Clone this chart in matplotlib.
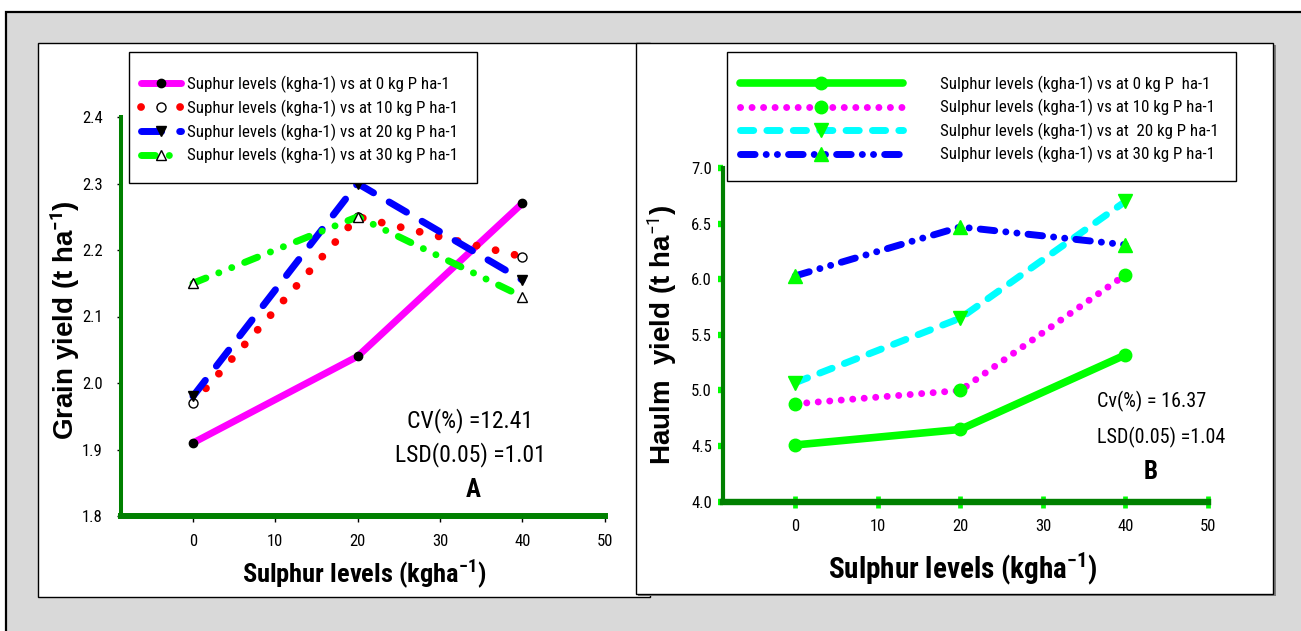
import matplotlib
matplotlib.use('Agg')
import matplotlib.pyplot as plt
from matplotlib.patches import Rectangle
from matplotlib import font_manager as fm

# ---------------- data ----------------
sulphur = [0, 20, 40]
x_ticks = [0, 10, 20, 30, 40, 50]
grain_ticks = [1.8, 1.9, 2.0, 2.1, 2.2, 2.3, 2.4]
haulm_ticks = [4.0, 4.5, 5.0, 5.5, 6.0, 6.5, 7.0]

grain_p0 = [1.91, 2.04, 2.27]
grain_p10 = [1.97, 2.25, 2.19]
grain_p20 = [1.98, 2.30, 2.155]
grain_p30 = [2.15, 2.25, 2.13]

haulm_p0 = [4.51, 4.65, 5.32]
haulm_p10 = [4.88, 5.00, 6.04]
haulm_p20 = [5.07, 5.65, 6.70]
haulm_p30 = [6.03, 6.47, 6.31]

grain_labels = ["Suphur levels (kgha-1) vs at 0 kg P ha-1",
                "Suphur levels (kgha-1) vs at 10 kg P ha-1",
                "Suphur levels (kgha-1) vs at 20 kg P ha-1",
                "Suphur levels (kgha-1) vs at 30 kg P ha-1"]
haulm_labels = ["Sulphur levels (kgha-1) vs at 0 kg P  ha-1",
                "Sulphur levels (kgha-1) vs at 10 kg P ha-1",
                "Sulphur levels (kgha-1) vs at  20 kg P ha-1",
                "Sulphur levels (kgha-1) vs at 30 kg P ha-1"]

# ---------------- fonts ----------------
names = {f.name for f in fm.fontManager.ttflist}
cands = ['Liberation Sans Narrow', 'Arial Narrow', 'Nimbus Sans Narrow',
         'Roboto Condensed', 'PT Sans Narrow', 'Barlow Semi Condensed']
NARROW = next((c for c in cands if c in names), 'Liberation Sans')
WIDE = 'Liberation Sans'
plt.rcParams['font.family'] = [NARROW, 'DejaVu Sans']
plt.rcParams['mathtext.fontset'] = 'custom'
plt.rcParams['mathtext.rm'] = NARROW
plt.rcParams['mathtext.bf'] = NARROW + ':bold'
plt.rcParams['mathtext.it'] = NARROW + ':italic'

W, H = 1301, 631
fig = plt.figure(figsize=(W / 100, H / 100), dpi=100, facecolor='white')


def rect_px(x0, y0, x1, y1, **kw):
    r = Rectangle((x0 / W, 1 - y1 / H), (x1 - x0) / W, (y1 - y0) / H,
                  transform=fig.transFigure, **kw)
    fig.add_artist(r)
    return r


rect_px(6, 12, 1330, 660, facecolor='#D9D9D9', edgecolor='black', lw=1.6, zorder=-5)
rect_px(38, 43, 650, 597, facecolor='white', edgecolor='black', lw=1.0, zorder=-4)
rect_px(638, 45, 1275.5, 596, facecolor='#7F7F7F', edgecolor='none', zorder=-3)
rect_px(636, 43, 1273, 594, facecolor='white', edgecolor='black', lw=1.0, zorder=-2)

SPINE = '#008000'
XLIM = (-8.75, 50)

# ---------------- panel A ----------------
axA = fig.add_axes([121 / W, 1 - 516 / H, (604.5 - 121) / W, (516 - 117) / H])
axA.set_facecolor('none')

lw = 5.0
axA.plot(sulphur, grain_p0, color='#FF00FF', lw=lw, ls='-', solid_capstyle='round',
         marker='o', ms=6, mfc='black', mec='black', clip_on=False, label=grain_labels[0])
axA.plot(sulphur, grain_p10, color='#FF0000', lw=5.6, ls=(0, (0.01, 2.5)), dash_capstyle='round',
         marker='o', ms=6.5, mfc='white', mec='black', mew=1, clip_on=False, label=grain_labels[1])
axA.plot(sulphur, grain_p20, color='#0000FF', lw=lw, ls=(0, (2.9, 2.6)), dash_capstyle='round',
         marker='v', ms=7, mfc='black', mec='black', clip_on=False, label=grain_labels[2])
axA.plot(sulphur, grain_p30, color='#00FF00', lw=lw, ls=(0, (2.0, 2.0, 0.01, 2.0, 0.01, 2.0)),
         dash_capstyle='round', marker='^', ms=7, mfc='white', mec='black', mew=1,
         clip_on=False, label=grain_labels[3])

axA.set_xlim(*XLIM)
axA.set_ylim(1.8, 2.4)
axA.set_xticks(x_ticks)
axA.set_yticks(grain_ticks)
axA.set_yticklabels([f"{v:.1f}" for v in grain_ticks])
for s in ('top', 'right'):
    axA.spines[s].set_visible(False)
axA.spines['left'].set_color(SPINE)
axA.spines['left'].set_linewidth(2.9)
axA.spines['bottom'].set_color(SPINE)
axA.spines['bottom'].set_linewidth(4.3)
axA.tick_params(axis='x', direction='out', length=4.3, width=1, color='black', pad=8.5, labelsize=12)
axA.tick_params(axis='y', direction='out', length=3, width=1, color='black', pad=10, labelsize=12)

axA.set_ylabel(r'Grain yield (t ha$^{\mathbf{-1}}$)', family=[WIDE, 'DejaVu Sans'],
               fontweight='bold', fontsize=20, va='center')
axA.yaxis.set_label_coords((65 - 121) / 483.5, 0.49)
axA.set_xlabel(r'Sulphur levels (kgha$^{\mathbf{-1}}$)', fontweight='bold', fontsize=19,
               va='baseline')
axA.xaxis.set_label_coords(0.504, -(582 - 516) / 399)

axA.text(33.7, 1.944, 'CV(%) =12.41', ha='center', va='center', fontsize=17)
axA.text(33.7, 1.892, 'LSD(0.05) =1.01', ha='center', va='center', fontsize=17)
axA.text(34.1, 1.839, 'A', ha='center', va='center', fontsize=18, fontweight='bold')

hA, lA = axA.get_legend_handles_labels()
legA = fig.legend(hA, lA, loc='upper left', bbox_to_anchor=(141 / W, 1 - 75.5 / H),
                  bbox_transform=fig.transFigure, borderaxespad=0, borderpad=0, fontsize=12.2,
                  handlelength=2.37, handletextpad=0.36, labelspacing=0.39,
                  frameon=False, numpoints=1)
rect_px(129, 52, 477, 183, facecolor='white', edgecolor='black', lw=1.0, zorder=4)
legA.set_zorder(5)

# ---------------- panel B ----------------
axB = fig.add_axes([723 / W, 1 - 501.7 / H, (1208 - 723) / W, (501.7 - 168) / H])
axB.set_facecolor('none')

G = '#00FF00'
axB.plot(sulphur, haulm_p0, color=G, lw=5.5, ls='-', solid_capstyle='round',
         marker='o', ms=9, mfc=G, mec=G, clip_on=False, label=haulm_labels[0])
axB.plot(sulphur, haulm_p10, color='#FF00FF', lw=5.0, ls=(0, (0.01, 1.65)), dash_capstyle='round',
         marker='o', ms=9, mfc=G, mec=G, clip_on=False, label=haulm_labels[1])
axB.plot(sulphur, haulm_p20, color='#00FFFF', lw=5.0, ls=(0, (1.9, 1.9)), dash_capstyle='round',
         marker='v', ms=10, mfc=G, mec=G, clip_on=False, label=haulm_labels[2])
axB.plot(sulphur, haulm_p30, color='#0000FF', lw=5.0,
         ls=(0, (2.1, 1.6, 0.01, 1.6, 0.01, 1.6)), dash_capstyle='round',
         marker='^', ms=10, mfc=G, mec=G, clip_on=False, label=haulm_labels[3])

axB.set_xlim(*XLIM)
axB.set_ylim(4.0, 7.0)
axB.set_xticks(x_ticks)
axB.set_yticks(haulm_ticks)
axB.set_yticklabels([f"{v:.1f}" for v in haulm_ticks])
for s in ('top', 'right'):
    axB.spines[s].set_visible(False)
axB.spines['left'].set_color(SPINE)
axB.spines['left'].set_linewidth(3.0)
axB.spines['bottom'].set_color(SPINE)
axB.spines['bottom'].set_linewidth(4.6)
axB.tick_params(axis='x', direction='inout', length=8.6, width=3.4, color=G, pad=8, labelsize=12)
axB.tick_params(axis='y', direction='out', length=3.6, width=4.6, color=G, pad=4.3, labelsize=12)

axB.set_ylabel(r'Haulm  yield (t ha$^{-1}$)', family=[WIDE, 'DejaVu Sans'],
               fontweight='bold', fontsize=20, va='center')
axB.yaxis.set_label_coords((662 - 723) / 485, 0.5)
axB.set_xlabel(r'Sulphur levels (kgha$^{\mathbf{-1}}$)', fontweight='bold', fontsize=21,
               va='baseline')
axB.xaxis.set_label_coords(0.495, -(578 - 501.7) / 333.7)

axB.text(36.6, 4.897, 'Cv(%) = 16.37', ha='left', va='center', fontsize=14.5)
axB.text(36.6, 4.58, 'LSD(0.05) =1.04', ha='left', va='center', fontsize=14.5)
axB.text(43.1, 4.27, 'B', ha='center', va='center', fontsize=18, fontweight='bold')

hB, lB = axB.get_legend_handles_labels()
legB = fig.legend(hB, lB, loc='upper left', bbox_to_anchor=(740 / W, 1 - 75.5 / H),
                  bbox_transform=fig.transFigure, borderaxespad=0, borderpad=0, fontsize=12.2,
                  handlelength=9.6, handletextpad=2.2, labelspacing=0.37,
                  frameon=False, numpoints=1)
rect_px(727, 52, 1236, 181, facecolor='white', edgecolor='black', lw=1.0, zorder=4)
legB.set_zorder(5)

fig.savefig('out.png', dpi=100, facecolor='white')
